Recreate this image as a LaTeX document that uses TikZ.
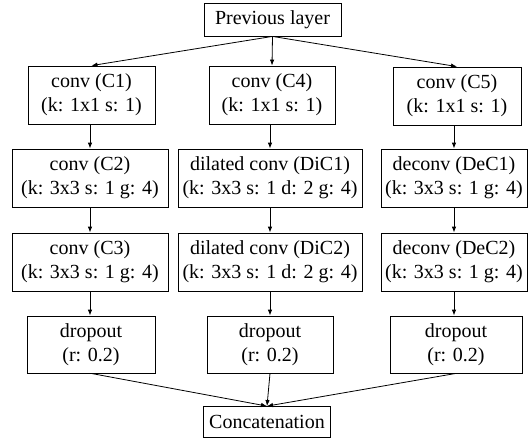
\documentclass[tikz,border=0pt]{standalone}
\usepackage{fontspec}
\setmainfont{Liberation Serif}
\usetikzlibrary{arrows.meta}
\begin{document}
\begin{tikzpicture}[x=1pt,y=-1pt,
  box/.style={draw, line width=0.8pt, align=center, inner sep=0pt,
    font=\fontsize{20}{24}\selectfont},
  arr/.style={line width=0.8pt, -{Latex[length=6pt,width=4.5pt]}}]
\useasboundingbox (0,0) rectangle (531,439);
\node[box, minimum width=137, minimum height=33] (prev) at (272.5,19.5) {Previous layer};
% row 1
\node[box, minimum width=127, minimum height=58] (c1) at (91.5,95) {conv (C1)\\(k: 1x1 s: 1)};
\node[box, minimum width=126, minimum height=58] (c4) at (272,95) {conv (C4)\\(k: 1x1 s: 1)};
\node[box, minimum width=128, minimum height=58] (c5) at (457,96) {conv (C5)\\(k: 1x1 s: 1)};
% row 2
\node[box, minimum width=156, minimum height=58] (c2) at (90,178) {conv (C2)\\(k: 3x3 s: 1 g: 4)};
\node[box, minimum width=184, minimum height=58] (dic1) at (270,178) {dilated conv (DiC1)\\(k: 3x3 s: 1 d: 2 g: 4)};
\node[box, minimum width=146, minimum height=58] (dec1) at (454,178) {deconv (DeC1)\\(k: 3x3 s: 1 g: 4)};
% row 3
\node[box, minimum width=156, minimum height=58] (c3) at (90,262) {conv (C3)\\(k: 3x3 s: 1 g: 4)};
\node[box, minimum width=184, minimum height=58] (dic2) at (270,262) {dilated conv (DiC2)\\(k: 3x3 s: 1 d: 2 g: 4)};
\node[box, minimum width=146, minimum height=58] (dec2) at (454,262) {deconv (DeC2)\\(k: 3x3 s: 1 g: 4)};
% row 4
\node[box, minimum width=128, minimum height=57] (d1) at (91,344.5) {dropout\\(r: 0.2)};
\node[box, minimum width=126, minimum height=57] (d2) at (270,344.5) {dropout\\(r: 0.2)};
\node[box, minimum width=132, minimum height=57] (d3) at (456,344.5) {dropout\\(r: 0.2)};
% concat
\node[box, minimum width=127, minimum height=31] (cat) at (267,422) {Concatenation};
% arrows
\draw[arr] (prev.south) -- (c1.north);
\draw[arr] (prev.south) -- (c4.north);
\draw[arr] (prev.south) -- (c5.north);
\draw[arr] (c1.south -| c2.north) -- (c2.north);
\draw[arr] (c4.south -| dic1.north) -- (dic1.north);
\draw[arr] (c5.south -| dec1.north) -- (dec1.north);
\draw[arr] (c2.south) -- (c3.north);
\draw[arr] (dic1.south) -- (dic2.north);
\draw[arr] (dec1.south) -- (dec2.north);
\draw[arr] (c3.south) -- (c3.south |- d1.north);
\draw[arr] (dic2.south) -- (d2.north);
\draw[arr] (dec2.south) -- (dec2.south |- d3.north);
\draw[arr] (d1.south) -- (cat.north);
\draw[arr] (d2.south) -- (cat.north);
\draw[arr] (d3.south) -- (cat.north);
\end{tikzpicture}
\end{document}
